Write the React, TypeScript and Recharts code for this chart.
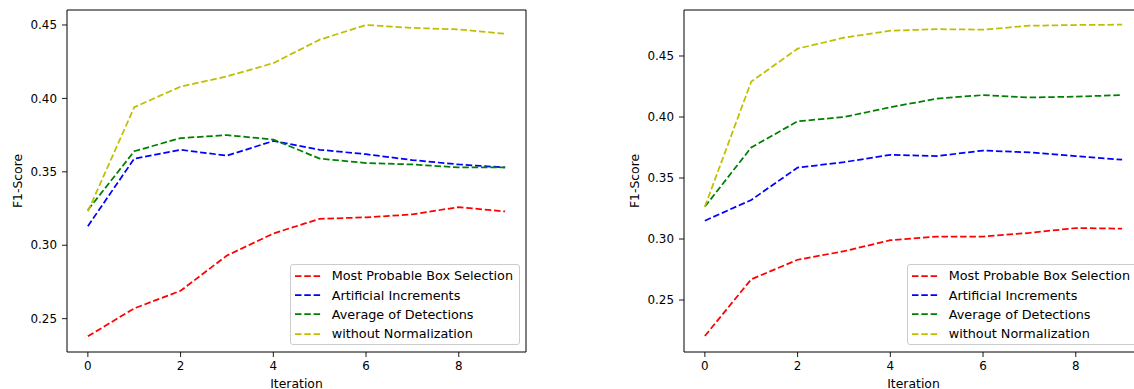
import React from 'react';
import { LineChart, Line, XAxis, YAxis, ReferenceArea, Legend, Label } from 'recharts';

const iterations = [0, 1, 2, 3, 4, 5, 6, 7, 8, 9];
const seriesNames = [
  'Most Probable Box Selection',
  'Artificial Increments',
  'Average of Detections',
  'without Normalization',
];
const seriesColors = ['#ff0000', '#0000ff', '#008000', '#bfbf00'];
const xTicks = [0, 2, 4, 6, 8];
const yTicks = [0.25, 0.3, 0.35, 0.4, 0.45];

// Left panel
const leftMostProbable = [0.238, 0.257, 0.269, 0.293, 0.308, 0.318, 0.319, 0.321, 0.326, 0.323];
const leftArtificial = [0.313, 0.359, 0.365, 0.361, 0.371, 0.365, 0.362, 0.358, 0.355, 0.353];
const leftAverage = [0.324, 0.364, 0.373, 0.375, 0.372, 0.359, 0.356, 0.355, 0.353, 0.353];
const leftWithout = [0.323, 0.394, 0.408, 0.415, 0.424, 0.440, 0.450, 0.448, 0.447, 0.444];
const leftDomain = [0.2273, 0.4602];

// Right panel
const rightMostProbable = [0.2205, 0.267, 0.283, 0.290, 0.299, 0.302, 0.302, 0.305, 0.309, 0.3085];
const rightArtificial = [0.315, 0.332, 0.3585, 0.363, 0.369, 0.368, 0.3725, 0.371, 0.368, 0.365];
const rightAverage = [0.3265, 0.375, 0.3965, 0.400, 0.408, 0.415, 0.418, 0.416, 0.4167, 0.418];
const rightWithout = [0.3265, 0.429, 0.456, 0.465, 0.4707, 0.472, 0.4716, 0.4748, 0.4754, 0.4757];
const rightDomain = [0.2074, 0.4877];

const FONT = 'DejaVu Sans';
const TICK_FS = 11.9;
const LABEL_FS = 12.4;
const LEGEND_FS = 12.8;
const DASH = '6.5 2.8';

function buildData(series: number[][]) {
  return iterations.map((it, i) => {
    const row: Record<string, number> = { iter: it };
    series.forEach((s, k) => {
      row['s' + k] = s[i];
    });
    return row;
  });
}

const renderLegend = (props: any) => {
  const payload = (props && props.payload) || [];
  const items = seriesNames.map((n, i) => {
    const p = payload.find((e: any) => e && e.value === n);
    return { name: n, color: (p && p.color) || seriesColors[i] };
  });
  return (
    <div
      style={{
        boxSizing: 'border-box',
        width: 230,
        height: 81,
        border: '1px solid #cccccc',
        borderRadius: 3,
        background: 'rgba(255,255,255,0.8)',
        position: 'relative',
        fontFamily: FONT,
        fontSize: LEGEND_FS,
        color: '#000',
      }}
    >
      {items.map((it, i) => (
        <div
          key={it.name}
          style={{
            position: 'absolute',
            left: 4,
            top: 1.2 + i * 19.35,
            height: 19,
            display: 'flex',
            alignItems: 'center',
            whiteSpace: 'nowrap',
          }}
        >
          <svg width={26} height={6} style={{ display: 'block' }}>
            <line x1={0} y1={3} x2={26} y2={3} stroke={it.color} strokeWidth={1.75} strokeDasharray={DASH} />
          </svg>
          <span style={{ marginLeft: 10.7, lineHeight: '19px' }}>{it.name}</span>
        </div>
      ))}
    </div>
  );
};

function Panel({ series, domain }: { series: number[][]; domain: number[] }) {
  const data = buildData(series);
  return (
    <LineChart width={540} height={389} data={data} margin={{ top: 10, right: 14, left: 0, bottom: 7 }}>
      <XAxis
        dataKey="iter"
        type="number"
        domain={[-0.45, 9.45]}
        ticks={xTicks}
        allowDataOverflow
        height={30}
        axisLine={false}
        tickLine={{ stroke: '#000', strokeWidth: 0.9 }}
        tickSize={5}
        tickMargin={5}
        tick={{ fill: '#000', fontSize: TICK_FS, fontFamily: FONT }}
      >
        <Label
          content={(p: any) => {
            const vb = p.viewBox || { x: 0, y: 0, width: 0, height: 0 };
            const cx = vb.x + vb.width / 2;
            const cy = vb.y + 31.5;
            return (
              <text x={cx} y={cy} textAnchor="middle" dominantBaseline="central" fontSize={LABEL_FS} fontFamily={FONT} fill="#000">
                Iteration
              </text>
            );
          }}
        />
      </XAxis>
      <YAxis
        type="number"
        domain={domain}
        ticks={yTicks}
        allowDataOverflow
        width={67}
        axisLine={false}
        tickLine={{ stroke: '#000', strokeWidth: 0.9 }}
        tickSize={5}
        tickMargin={5}
        tickFormatter={(v: number) => v.toFixed(2)}
        tick={{ fill: '#000', fontSize: TICK_FS, fontFamily: FONT }}
      >
        <Label
          content={(p: any) => {
            const vb = p.viewBox || { x: 0, y: 0, width: 0, height: 0 };
            const cx = vb.x + 17;
            const cy = vb.y + vb.height / 2;
            return (
              <text
                x={cx}
                y={cy}
                transform={`rotate(-90 ${cx} ${cy})`}
                textAnchor="middle"
                dominantBaseline="central"
                fontSize={LABEL_FS}
                fontFamily={FONT}
                fill="#000"
              >
                F1-Score
              </text>
            );
          }}
        />
      </YAxis>
      {seriesNames.map((n, k) => (
        <Line
          key={n}
          type="linear"
          dataKey={'s' + k}
          name={n}
          stroke={seriesColors[k]}
          strokeWidth={1.75}
          strokeDasharray={DASH}
          dot={false}
          activeDot={false}
          isAnimationActive={false}
        />
      ))}
      <ReferenceArea
        x1={-0.45}
        x2={9.45}
        y1={domain[0]}
        y2={domain[1]}
        fill="none"
        fillOpacity={0}
        stroke="#000"
        strokeWidth={1}
        ifOverflow="visible"
      />
      <Legend
        layout="horizontal"
        verticalAlign="middle"
        align="center"
        content={renderLegend}
        wrapperStyle={{ position: 'absolute', left: 290, top: 264, width: 230, height: 81 }}
      />
    </LineChart>
  );
}

export default function App() {
  return (
    <div
      style={{
        position: 'absolute',
        left: 0,
        top: 0,
        width: 1134,
        height: 389,
        overflow: 'hidden',
        background: '#fff',
      }}
    >
      <div style={{ position: 'absolute', left: 0, top: 0 }}>
        <Panel series={[leftMostProbable, leftArtificial, leftAverage, leftWithout]} domain={leftDomain} />
      </div>
      <div style={{ position: 'absolute', left: 617, top: 0 }}>
        <Panel series={[rightMostProbable, rightArtificial, rightAverage, rightWithout]} domain={rightDomain} />
      </div>
    </div>
  );
}
